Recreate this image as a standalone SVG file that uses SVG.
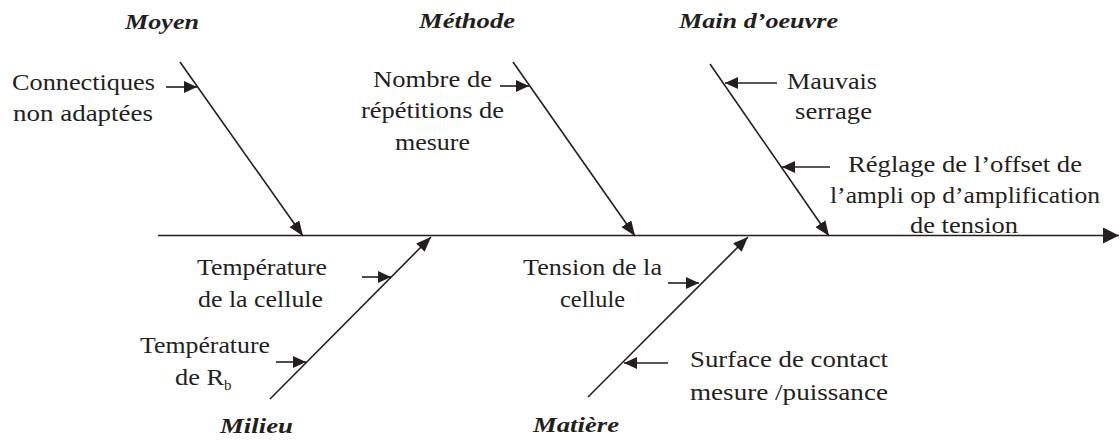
<svg xmlns="http://www.w3.org/2000/svg" width="1120" height="441" viewBox="0 0 1120 441">
<style>
.ln{stroke:#231f20;stroke-width:1.6;fill:none}
</style>
<defs>
<marker id="big" viewBox="0 0 16 16" refX="16" refY="8" markerWidth="16" markerHeight="16" markerUnits="userSpaceOnUse" orient="auto"><path d="M0,0 L16,8 L0,16 z" fill="#231f20"/></marker>
<marker id="br" viewBox="0 0 15 12" refX="15" refY="6" markerWidth="15" markerHeight="12" markerUnits="userSpaceOnUse" orient="auto"><path d="M0,0 L15,6 L0,12 z" fill="#231f20"/></marker>
<marker id="sm" viewBox="0 0 13 12" refX="13" refY="6" markerWidth="13" markerHeight="12" markerUnits="userSpaceOnUse" orient="auto"><path d="M0,0 L13,6 L0,12 z" fill="#231f20"/></marker>
</defs>
<rect width="1120" height="441" fill="#fff"/>
<g id="connectors">
<line class="ln" x1="158" y1="235.5" x2="1119" y2="235.5" marker-end="url(#big)"/>
<line class="ln" x1="180" y1="62" x2="303" y2="236" marker-end="url(#br)"/>
<line class="ln" x1="513" y1="62" x2="635" y2="236" marker-end="url(#br)"/>
<line class="ln" x1="710" y1="64" x2="829" y2="236" marker-end="url(#br)"/>
<line class="ln" x1="270" y1="399" x2="431" y2="237" marker-end="url(#br)"/>
<line class="ln" x1="588" y1="397" x2="748" y2="237" marker-end="url(#br)"/>
<line class="ln" x1="166" y1="87" x2="197" y2="87" marker-end="url(#sm)"/>
<line class="ln" x1="500" y1="86" x2="529" y2="86" marker-end="url(#sm)"/>
<line class="ln" x1="777" y1="83" x2="725" y2="83" marker-end="url(#sm)"/>
<line class="ln" x1="830" y1="167" x2="782" y2="167" marker-end="url(#sm)"/>
<line class="ln" x1="362" y1="277" x2="391" y2="277" marker-end="url(#sm)"/>
<line class="ln" x1="276" y1="362" x2="306" y2="362" marker-end="url(#sm)"/>
<line class="ln" x1="668" y1="283" x2="699" y2="283" marker-end="url(#sm)"/>
<line class="ln" x1="668" y1="363" x2="624" y2="363" marker-end="url(#sm)"/>
</g>
<g font-family="Liberation Serif" font-size="23" fill="#231f20">
<g id="moyen">
<text font-family="Liberation Serif" font-size="22" font-weight="bold" font-style="italic" x="125" y="29" textLength="74" lengthAdjust="spacingAndGlyphs">Moyen</text>
<text font-family="Liberation Serif" font-size="23" x="12" y="90" textLength="143" lengthAdjust="spacingAndGlyphs">Connectiques</text>
<text font-family="Liberation Serif" font-size="23" x="13" y="121" textLength="140" lengthAdjust="spacingAndGlyphs">non adaptées</text>
</g>
<g id="methode">
<text font-family="Liberation Serif" font-size="22" font-weight="bold" font-style="italic" x="419" y="28" textLength="96" lengthAdjust="spacingAndGlyphs">Méthode</text>
<text font-family="Liberation Serif" font-size="23" x="373" y="87" textLength="119" lengthAdjust="spacingAndGlyphs">Nombre de</text>
<text font-family="Liberation Serif" font-size="23" x="361" y="118" textLength="143" lengthAdjust="spacingAndGlyphs">répétitions de</text>
<text font-family="Liberation Serif" font-size="23" x="395" y="150" textLength="75" lengthAdjust="spacingAndGlyphs">mesure</text>
</g>
<g id="main-oeuvre">
<text font-family="Liberation Serif" font-size="22" font-weight="bold" font-style="italic" x="679" y="28" textLength="159" lengthAdjust="spacingAndGlyphs">Main d’oeuvre</text>
<text font-family="Liberation Serif" font-size="23" x="787" y="89" textLength="90" lengthAdjust="spacingAndGlyphs">Mauvais</text>
<text font-family="Liberation Serif" font-size="23" x="795" y="119" textLength="77" lengthAdjust="spacingAndGlyphs">serrage</text>
<text font-family="Liberation Serif" font-size="23" x="848" y="172" textLength="234" lengthAdjust="spacingAndGlyphs">Réglage de l’offset de</text>
<text font-family="Liberation Serif" font-size="23" x="830" y="203" textLength="270" lengthAdjust="spacingAndGlyphs">l’ampli  op d’amplification</text>
<text font-family="Liberation Serif" font-size="23" x="910" y="233" textLength="108" lengthAdjust="spacingAndGlyphs">de tension</text>
</g>
<g id="milieu">
<text font-family="Liberation Serif" font-size="22" font-weight="bold" font-style="italic" x="220" y="433" textLength="73" lengthAdjust="spacingAndGlyphs">Milieu</text>
<text font-family="Liberation Serif" font-size="23" x="197" y="275" textLength="130" lengthAdjust="spacingAndGlyphs">Température</text>
<text font-family="Liberation Serif" font-size="23" x="198" y="307" textLength="125" lengthAdjust="spacingAndGlyphs">de la cellule</text>
<text font-family="Liberation Serif" font-size="23" x="140" y="353" textLength="130" lengthAdjust="spacingAndGlyphs">Température</text>
<text font-family="Liberation Serif" font-size="23" x="175" y="385" textLength="49" lengthAdjust="spacingAndGlyphs">de R</text>
<text font-family="Liberation Serif" font-size="15" x="224" y="390">b</text>
</g>
<g id="matiere">
<text font-family="Liberation Serif" font-size="22" font-weight="bold" font-style="italic" x="533" y="432" textLength="86" lengthAdjust="spacingAndGlyphs">Matière</text>
<text font-family="Liberation Serif" font-size="23" x="523" y="275" textLength="139" lengthAdjust="spacingAndGlyphs">Tension de la</text>
<text font-family="Liberation Serif" font-size="23" x="560" y="307" textLength="65" lengthAdjust="spacingAndGlyphs">cellule</text>
<text font-family="Liberation Serif" font-size="23" x="690" y="367" textLength="198" lengthAdjust="spacingAndGlyphs">Surface de contact</text>
<text font-family="Liberation Serif" font-size="23" x="690" y="400" textLength="198" lengthAdjust="spacingAndGlyphs">mesure /puissance</text>
</g>
</g>
</svg>
